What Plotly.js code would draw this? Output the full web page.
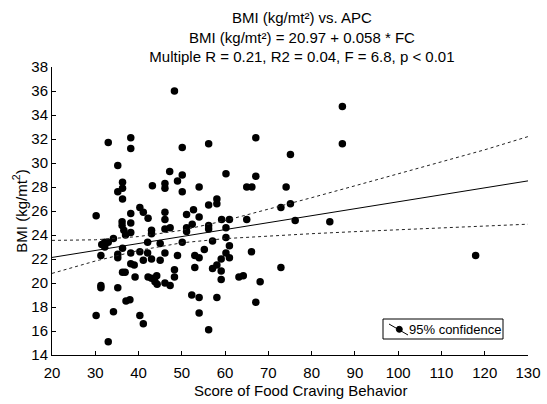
<!DOCTYPE html>
<html>
<head>
<meta charset="utf-8">
<script src="https://cdn.plot.ly/plotly-3.0.1.min.js"></script>
<style>html,body{margin:0;padding:0;background:#fff;}#chart{width:547px;height:404px;}</style>
</head>
<body>
<div id="chart"></div>
<script>
// Score of Food Craving Behavior (x) and BMI (y) for each subject
const fcScore = [48.3,33.0,38.2,38.2,50.1,56.2,67.1,87.1,87.1,75.1,
35.2,47.2,50.1,49.0,36.3,36.3,35.2,43.2,46.1,46.1,
50.1,54.0,60.2,67.1,65.0,66.2,74.1,36.3,56.2,58.1,
58.1,40.3,41.1,42.2,30.2,38.2,46.1,46.1,51.1,52.7,
54.0,72.9,75.1,36.2,36.2,38.2,36.6,37.0,43.0,43.0,
46.1,47.3,51.1,51.1,52.4,56.2,56.2,59.2,61.0,65.0,
60.2,60.2,76.2,84.2,31.5,32.2,33.0,32.2,34.2,31.3,
36.3,35.2,35.2,38.2,40.3,42.1,41.1,42.1,43.0,45.0,
45.0,46.1,49.0,50.1,53.0,54.0,55.2,57.1,61.0,60.2,
61.0,66.1,59.1,58.1,57.1,59.1,59.1,63.2,64.2,68.1,
72.9,53.0,48.3,48.3,38.2,39.0,36.9,36.3,39.2,42.2,
43.0,43.8,44.3,44.2,46.1,47.3,31.3,31.3,35.2,37.1,
38.0,52.3,54.0,58.1,67.1,30.2,34.2,40.3,41.1,54.0,
56.2,33.0,117.9,38.2];
const bmi = [36.0,31.7,32.1,31.2,31.3,31.6,32.1,34.7,31.6,30.7,
29.8,29.3,29.0,28.5,28.4,27.9,27.6,28.1,28.3,27.9,
27.6,28.0,29.1,28.9,28.0,28.0,28.0,27.0,26.5,27.0,
26.6,26.3,25.9,25.4,25.6,25.8,25.9,25.3,25.7,26.1,
25.5,26.3,26.6,25.1,24.8,25.0,24.4,24.0,24.4,24.1,
24.5,24.6,24.6,24.3,24.9,24.8,24.5,25.3,25.3,25.3,
24.6,23.8,25.2,25.1,23.2,23.4,23.4,23.0,23.7,22.3,
22.9,22.4,22.1,22.5,22.6,23.4,21.9,22.5,22.0,23.3,
21.9,22.5,22.3,23.4,22.3,22.1,22.8,23.5,23.1,22.5,
22.1,22.6,22.0,21.5,21.2,21.0,20.3,20.5,20.6,20.1,
21.3,21.3,21.1,20.5,21.6,21.5,20.9,20.9,20.5,20.5,
20.4,20.1,19.9,20.6,20.0,19.8,19.8,19.6,19.6,18.5,
18.6,19.0,18.8,18.8,18.4,17.3,17.6,17.3,16.6,17.5,
16.1,15.1,22.3,24.2];

// Fitted line BMI = 20.97 + 0.058 * FC, end points
const fitX = [20, 130];
const fitY = [22.13, 28.51];

// 95% confidence band
const bandX     = [20, 30, 40, 50, 60, 70, 80, 90, 100, 110, 120, 130];
const bandUpper = [23.55, 23.6, 23.87, 24.39, 25.2, 26.14, 27.11, 28.1, 29.1, 30.1, 31.1, 32.2];
const bandLower = [20.8, 21.83, 22.71, 23.35, 23.7, 23.92, 24.11, 24.28, 24.44, 24.6, 24.76, 24.9];

const xTicks = [20,30,40,50,60,70,80,90,100,110,120,130];
const yTicks = [14,16,18,20,22,24,26,28,30,32,34,36,38];

const FONT = 'Liberation Sans, Arial, Helvetica, sans-serif';

const traces = [
  {x: fcScore, y: bmi, type: 'scatter', mode: 'markers', showlegend: false,
   marker: {color: '#000', size: 7.5}},
  {x: fitX, y: fitY, type: 'scatter', mode: 'lines', showlegend: false,
   line: {color: '#000', width: 1}},
  {x: bandX, y: bandUpper, type: 'scatter', mode: 'lines', showlegend: false,
   line: {color: '#222', width: 1, dash: '3px,3px'}},
  {x: bandX, y: bandLower, type: 'scatter', mode: 'lines', showlegend: false,
   line: {color: '#222', width: 1, dash: '3px,3px'}}
];

// legend box (drawn in paper coordinates of the plot area)
const px = v => (v - 52) / 476;
const py = v => (355 - v) / 288;

const layout = {
  width: 547, height: 404,
  margin: {l: 52, r: 19, t: 67, b: 49, pad: 0},
  paper_bgcolor: '#fff', plot_bgcolor: '#fff',
  font: {family: FONT, size: 15, color: '#000'},
  showlegend: false,
  title: {
    text: 'BMI (kg/mt²) vs. APC<br>BMI (kg/mt²) = 20.97 + 0.058 * FC<br>Multiple R = 0.21, R2 = 0.04, F = 6.8, p < 0.01',
    font: {family: FONT, size: 15, color: '#000'},
    x: 0.552, xref: 'container', xanchor: 'center',
    y: 0.943, yref: 'container', yanchor: 'top'
  },
  xaxis: {
    range: [20, 130], tickvals: xTicks, ticktext: xTicks.map(String),
    ticks: 'inside', ticklen: 4, tickcolor: '#000',
    showline: true, linecolor: '#000', linewidth: 1,
    showgrid: false, zeroline: false, mirror: false, automargin: false,
    tickfont: {family: FONT, size: 15, color: '#000'},
    ticklabelstandoff: 4
  },
  yaxis: {
    range: [14, 38], tickvals: yTicks, ticktext: yTicks.map(String),
    ticks: 'inside', ticklen: 4, tickcolor: '#000',
    showline: true, linecolor: '#000', linewidth: 1,
    showgrid: false, zeroline: false, mirror: false, automargin: false,
    tickfont: {family: FONT, size: 15, color: '#000'},
    ticklabelstandoff: 0,
    title: {text: 'BMI (kg/mt<sup>2</sup>)', font: {family: FONT, size: 15, color: '#000'}, standoff: 0}
  },
  annotations: [
    {text: 'Score of Food Craving Behavior', xref: 'paper', yref: 'paper',
     x: px(300), y: py(390), xanchor: 'center', yanchor: 'middle', showarrow: false,
     font: {family: FONT, size: 15, color: '#000'}},
    {text: '95% confidence', xref: 'paper', yref: 'paper',
     x: px(407), y: py(329.5), xanchor: 'left', yanchor: 'middle', showarrow: false,
     font: {family: FONT, size: 13, color: '#000'}}
  ],
  shapes: [
    {type: 'rect', xref: 'paper', yref: 'paper', x0: px(383), x1: px(503), y0: py(339), y1: py(319),
     line: {color: '#000', width: 1}, fillcolor: '#fff', layer: 'above'},
    {type: 'line', xref: 'paper', yref: 'paper', x0: px(389), y0: py(324), x1: px(408), y1: py(335),
     line: {color: '#000', width: 1}, layer: 'above'},
    {type: 'circle', xref: 'paper', yref: 'paper', x0: px(396.3), x1: px(402.3), y0: py(332.3), y1: py(326.3),
     line: {color: '#000', width: 1}, fillcolor: '#000', layer: 'above'}
  ]
};

Plotly.newPlot('chart', traces, layout, {displayModeBar: false, staticPlot: true});
</script>
</body>
</html>
